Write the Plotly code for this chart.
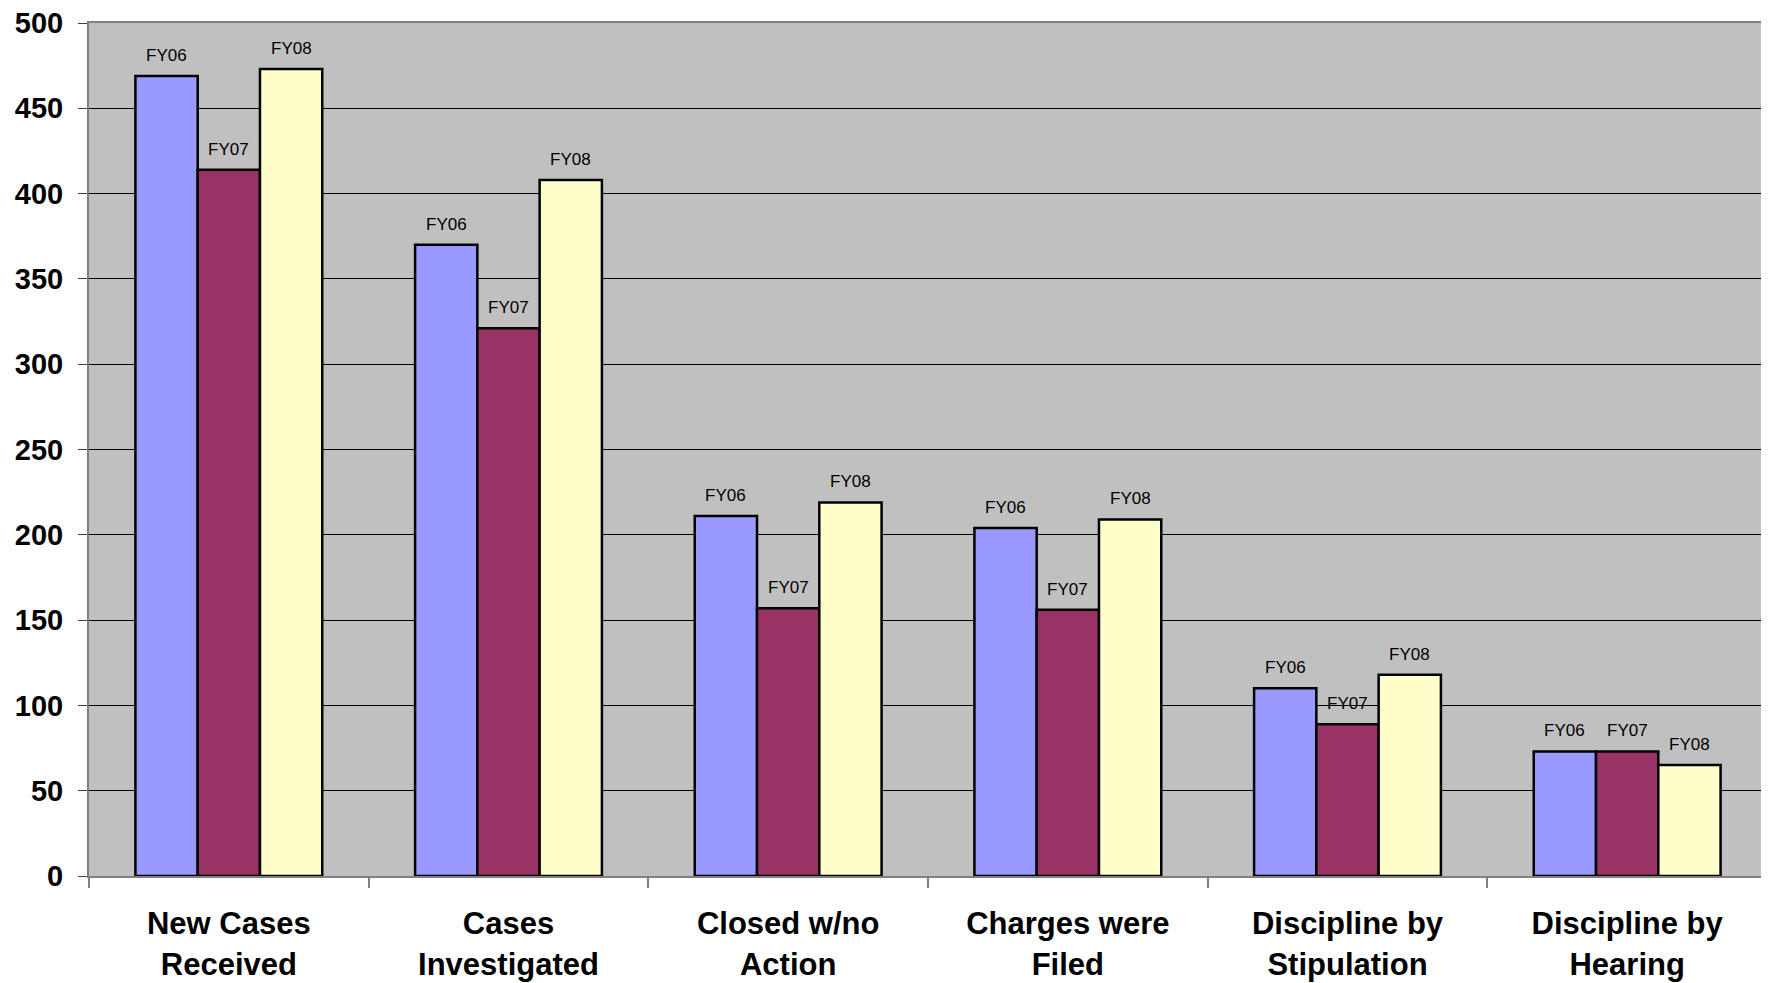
import plotly.graph_objects as go

# categories and yearly counts
categories = ["New Cases<br>Received", "Cases<br>Investigated", "Closed w/no<br>Action",
              "Charges were<br>Filed", "Discipline by<br>Stipulation", "Discipline by<br>Hearing"]
years = ["FY06", "FY07", "FY08"]
fy06 = [469, 370, 211, 204, 110, 73]
fy07 = [414, 321, 157, 156, 89, 73]
fy08 = [473, 408, 219, 209, 118, 65]
y_ticks = list(range(0, 501, 50))

series = [fy06, fy07, fy08]
colors = ["#9999ff", "#993366", "#ffffcc"]

fig = go.Figure()
for name, vals, col in zip(years, series, colors):
    fig.add_trace(go.Bar(
        x=categories, y=vals, name=name,
        marker=dict(color=col, line=dict(color="black", width=2.5)),
    ))

# year labels above each bar
bar_px = 62.3
annotations = []
for i, (name, vals) in enumerate(zip(years, series)):
    for cat, v in zip(categories, vals):
        annotations.append(dict(
            x=cat, y=v, text=name, showarrow=False,
            xanchor="center", yanchor="bottom",
            xshift=(i - 1) * bar_px, yshift=9,
            font=dict(family="Liberation Sans, Arial", size=17, color="black"),
        ))

# page body has an 8px margin, so the figure is 8px smaller than the window
fig.update_layout(
    width=1761, height=975,
    margin=dict(l=81, r=2, t=15, b=107),
    paper_bgcolor="white",
    plot_bgcolor="#c0c0c0",
    barmode="group",
    bargap=0.332,
    bargroupgap=0,
    showlegend=False,
    annotations=annotations,
    font=dict(family="Liberation Sans, Arial", color="black"),
)

fig.update_xaxes(
    type="category", automargin=False,
    showline=True, linecolor="#808080", linewidth=2, mirror=True,
    ticks="outside", tickson="boundaries", ticklen=10, tickcolor="#808080", tickwidth=2,
    tickfont=dict(family="Liberation Sans, Arial", size=31, weight="bold", color="black"),
    ticklabelstandoff=19,
    showgrid=False,
)

fig.update_yaxes(
    range=[0, 500], tickvals=y_ticks, automargin=False,
    showline=True, linecolor="#808080", linewidth=2, mirror=True,
    ticks="outside", ticklen=9, tickcolor="#404040", tickwidth=1,
    tickfont=dict(family="Liberation Sans, Arial", size=29, weight="bold", color="black"),
    ticklabelstandoff=9, ticklabeloverflow="allow",
    showgrid=True, gridcolor="black", gridwidth=1,
    zeroline=False,
)

fig.write_html("out.html")
